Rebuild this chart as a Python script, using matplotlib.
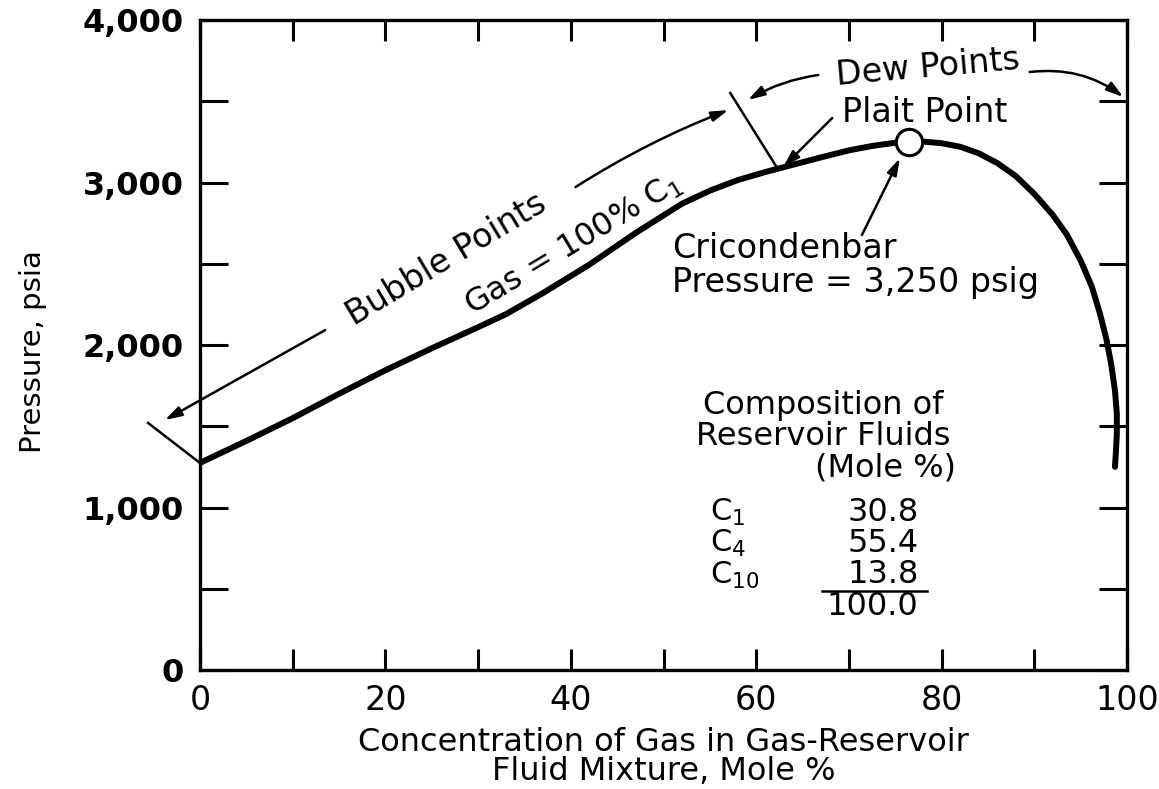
import matplotlib
matplotlib.use("Agg")
import matplotlib.pyplot as plt
from matplotlib import font_manager

# Phase envelope (bubble branch then dew branch)
conc = [0, 5, 10, 15, 20, 25, 30, 33, 37, 42, 47, 52, 55, 58, 61, 64, 67, 70, 72.5, 75, 76.5,
        78, 80, 82, 84, 86, 88, 90, 92, 93.5, 95, 96.2, 97.1, 97.8, 98.3, 98.7, 98.9, 98.9, 98.8, 98.7]
pressure = [1275, 1410, 1550, 1700, 1845, 1980, 2110, 2190, 2320, 2495, 2690, 2870, 2950, 3015, 3065, 3110,
            3155, 3198, 3225, 3245, 3250,
            3252, 3242, 3220, 3180, 3120, 3040, 2930, 2800, 2680, 2520, 2360, 2190, 2030, 1880, 1720,
            1580, 1450, 1340, 1250]

plait_x, plait_y = 76.5, 3250

x_ticks = [0, 10, 20, 30, 40, 50, 60, 70, 80, 90, 100]
x_labels = ["0", "", "20", "", "40", "", "60", "", "80", "", "100"]
y_ticks = [0, 500, 1000, 1500, 2000, 2500, 3000, 3500, 4000]
y_labels = ["0", "", "1,000", "", "2,000", "", "3,000", "", "4,000"]

components = [r"C$_1$", r"C$_4$", r"C$_{10}$"]
mole_pct = ["30.8", "55.4", "13.8"]
total = "100.0"

plt.rcParams["font.family"] = "DejaVu Sans"
names = {f.name for f in font_manager.fontManager.ttflist}
ylab_font = "Liberation Sans Narrow" if "Liberation Sans Narrow" in names else "DejaVu Sans"
ylab_size = 25 if ylab_font != "DejaVu Sans" else 21

fig = plt.figure(figsize=(11.59, 7.89), dpi=100)
ax = fig.add_axes([0.1726, 0.1508, 0.7998, 0.8238])

ax.plot(conc, pressure, color="black", lw=4.3, solid_capstyle="round", solid_joinstyle="round")
ax.plot([plait_x], [plait_y], "o", ms=19, mfc="white", mec="black", mew=2.2, zorder=5)

ax.set_xlim(0, 100)
ax.set_ylim(0, 4000)
ax.set_xticks(x_ticks)
ax.set_xticklabels(x_labels, fontsize=24)
ax.set_yticks(y_ticks)
ax.set_yticklabels(y_labels, fontsize=23, fontweight="bold")
ax.tick_params(axis="x", direction="in", length=15, width=2.2, pad=10, top=True)
ax.tick_params(axis="y", direction="in", length=20, width=2.2, pad=12, right=True)
for s in ax.spines.values():
    s.set_linewidth(2.4)

ax.set_xlabel("Concentration of Gas in Gas-Reservoir\nFluid Mixture, Mole %", fontsize=23, linespacing=0.9)
ax.xaxis.set_label_coords(0.5, -0.088)
ax.set_ylabel("Pressure, psia", fontsize=ylab_size, family=ylab_font)
ax.yaxis.set_label_coords(-0.165, 0.49)

arw = dict(arrowstyle="-|>,head_length=1.0,head_width=0.3", color="black", lw=1.8,
           shrinkA=0, shrinkB=0)

# bubble point span
ax.plot([-5.6, 0], [1520, 1274], color="black", lw=1.8, clip_on=False)
ax.annotate("", xy=(-3.8, 1538), xytext=(13.5, 2092), arrowprops=arw, annotation_clip=False)
ax.annotate("", xy=(57.0, 3446), xytext=(40.5, 2972),
            arrowprops=dict(arw, connectionstyle="arc3,rad=-0.05"))
ax.text(26.6, 2530, "Bubble Points", fontsize=24, rotation=31, ha="center", va="center",
        rotation_mode="anchor")
ax.text(40.3, 2620, r"Gas = 100% C$_1$", fontsize=23, rotation=31, ha="center", va="center",
        rotation_mode="anchor")

# tie line between bubble and dew spans
ax.plot([57.2, 62.4], [3551, 3077], color="black", lw=1.8)

# dew point span
ax.annotate("", xy=(59.1, 3508), xytext=(66.7, 3662),
            arrowprops=dict(arw, connectionstyle="arc3,rad=0.1"))
ax.annotate("", xy=(99.6, 3526), xytext=(89.5, 3680),
            arrowprops=dict(arw, connectionstyle="arc3,rad=-0.2"), annotation_clip=False)
ax.text(78.5, 3705, "Dew Points", fontsize=24, rotation=5, ha="center", va="center",
        rotation_mode="anchor")

# plait point / cricondenbar
ax.annotate("", xy=(62.9, 3095), xytext=(68.2, 3397), arrowprops=arw)
ax.text(78.2, 3434, "Plait Point", fontsize=24, ha="center", va="center")
ax.annotate("", xy=(75.5, 3150), xytext=(71.4, 2677), arrowprops=arw)
ax.text(50.9, 2490, "Cricondenbar\nPressure = 3,250 psig", fontsize=24, ha="left", va="center",
        linespacing=1.05)

# composition table
ax.text(67.2, 1535, "Composition of\nReservoir Fluids", fontsize=23, ha="center", va="center",
        linespacing=1.0)
ax.text(73.9, 1243, "(Mole %)", fontsize=23, ha="center", va="center")
rows_y = [972, 781, 585]
for name, val, yy in zip(components, mole_pct, rows_y):
    ax.text(55.0, yy, name, fontsize=22, ha="left", va="center")
    ax.text(77.5, yy, val, fontsize=23, ha="right", va="center")
ax.plot([67.1, 78.4], [486, 486], color="black", lw=1.8)
ax.text(77.5, 388, total, fontsize=23, ha="right", va="center")

fig.savefig("out.png", dpi=100)
